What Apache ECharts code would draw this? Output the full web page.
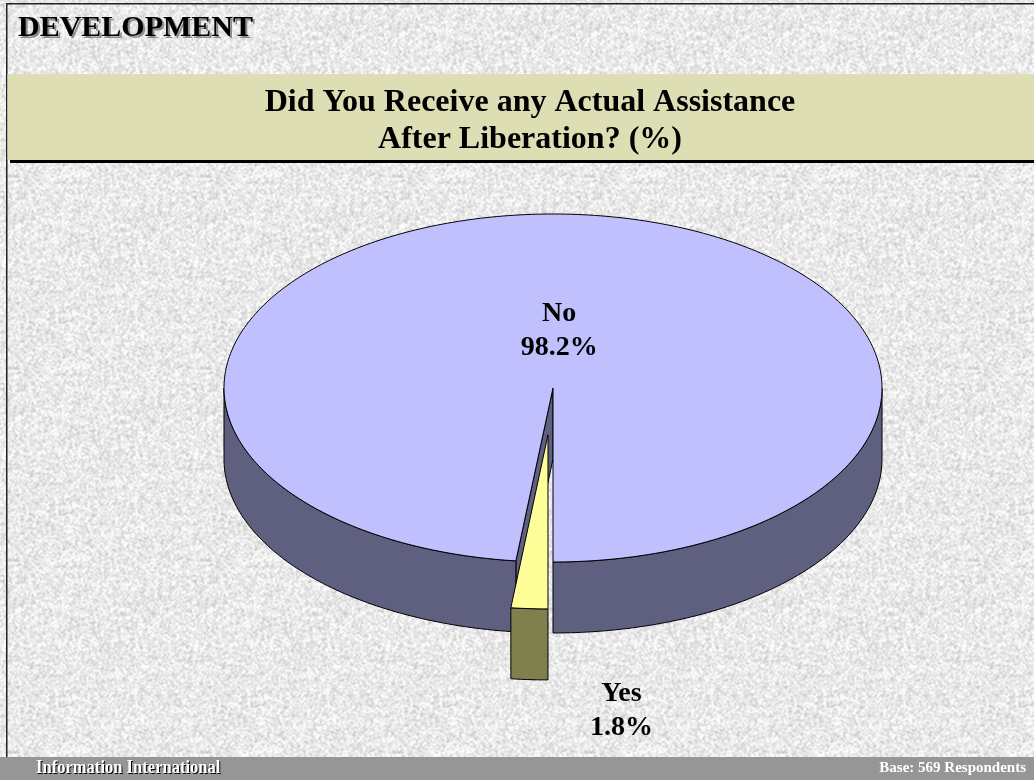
<!DOCTYPE html>
<html>
<head>
<meta charset="utf-8">
<script src="https://cdn.jsdelivr.net/npm/echarts@6/dist/echarts.min.js"></script>
<style>
  html, body { margin: 0; padding: 0; }
  #chart { width: 1034px; height: 780px; }
</style>
</head>
<body>
<div id="chart"></div>
<script>
// ---- data ----
const categories = ['No', 'Yes'];
const values = [98.2, 1.8];
const sectionTitle = 'DEVELOPMENT';
const titleLines = ['Did You Receive any Actual Assistance', 'After Liberation? (%)'];
const footerLeft = 'Information International';
const footerRight = 'Base: 569 Respondents';

// ---- look ----
const topColors = ['#C0C0FF', '#FFFF99'];
const sideColors = ['#5F5F80', '#80804E'];
const SERIF = 'Liberation Serif';

// 3D pie geometry (pixels); slices run counter-clockwise from 6 o'clock
const PIE = { cx: 553, cy: 388, rx: 329, ry: 174, depth: 71, startAngle: 90 };
const explodeBy = { 1: 0.27 };   // pulled-out slice, fraction of radius

function serifText(text, size, extra) {
  return Object.assign({
    text: text, fontFamily: SERIF, fontWeight: 'bold', fontSize: size, fill: '#000'
  }, extra || {});
}

// light granite backdrop built from a deterministic hash grain
function makeTexture() {
  const N = 192;
  const c = document.createElement('canvas');
  c.width = c.height = N;
  const g = c.getContext('2d');
  const hash = (x, y) => {
    let n = Math.imul(x, 374761393) + Math.imul(y, 668265263);
    n = Math.imul(n ^ (n >>> 13), 1274126177);
    n = n ^ (n >>> 16);
    return (n >>> 0) / 4294967296;
  };
  const raw = new Float32Array(N * N);
  for (let y = 0; y < N; y++) for (let x = 0; x < N; x++) raw[y * N + x] = hash(x, y);
  const img = g.createImageData(N, N);
  for (let y = 0; y < N; y++) {
    for (let x = 0; x < N; x++) {
      let s = 0;
      for (let dy = -1; dy <= 1; dy++) for (let dx = -1; dx <= 1; dx++) {
        s += raw[((y + dy + N) % N) * N + ((x + dx + N) % N)];
      }
      s /= 9;
      const fine = raw[y * N + x];
      const v = Math.round(233 + (s - 0.5) * 80 + (fine - 0.5) * 18);
      const k = (y * N + x) * 4;
      img.data[k] = img.data[k + 1] = img.data[k + 2] = Math.max(195, Math.min(252, v));
      img.data[k + 3] = 255;
    }
  }
  g.putImageData(img, 0, 0);
  return c;
}

const total = values.reduce((a, b) => a + b, 0);

function renderSlice(params) {
  const i = params.dataIndex;
  let cum = 0;
  for (let j = 0; j < i; j++) cum += values[j];
  const span = values[i] / total * 360;
  const hi = PIE.startAngle - cum / total * 360;
  const lo = hi - span;
  const bis = (lo + hi) / 2 * Math.PI / 180;
  const ex = (explodeBy[i] || 0) * PIE.rx;
  const ox = PIE.cx + ex * Math.cos(bis);
  const oy = PIE.cy + ex * Math.sin(bis) * PIE.ry / PIE.rx;
  const D = PIE.depth;
  const pt = (deg, h) => {
    const a = deg * Math.PI / 180;
    return [ox + PIE.rx * Math.cos(a), oy + PIE.ry * Math.sin(a) + h];
  };
  const arc = (a0, a1, h) => {
    const n = Math.max(2, Math.ceil(Math.abs(a1 - a0)));
    const pts = [];
    for (let k = 0; k <= n; k++) pts.push(pt(a0 + (a1 - a0) * k / n, h));
    return pts;
  };
  const edge = { stroke: '#000', lineWidth: 1, lineJoin: 'round' };
  const zb = 10 + Math.round((Math.sin(bis) + 1) * 10) * 10;
  const children = [];

  // radial cut faces that turn toward the viewer
  [[lo, lo - 90], [hi, hi + 90]].forEach(([a, nrm]) => {
    if (Math.sin(nrm * Math.PI / 180) > 1e-6) {
      children.push({
        type: 'polygon', z2: zb,
        shape: { points: [[ox, oy], pt(a, 0), pt(a, D), [ox, oy + D]] },
        style: Object.assign({ fill: sideColors[i] }, edge)
      });
    }
  });
  // outer rim, front half only
  for (let k = -2; k <= 1; k++) {
    const a0 = Math.max(lo, 360 * k), a1 = Math.min(hi, 360 * k + 180);
    if (a1 > a0) {
      children.push({
        type: 'polygon', z2: zb + 1,
        shape: { points: arc(a0, a1, 0).concat(arc(a1, a0, D)) },
        style: Object.assign({ fill: sideColors[i] }, edge)
      });
    }
  }
  // top face
  children.push({
    type: 'polygon', z2: zb + 2,
    shape: { points: [[ox, oy]].concat(arc(lo, hi, 0)) },
    style: Object.assign({ fill: topColors[i] }, edge)
  });

  // value label: inside large slices, below-right for thin ones
  let lx, ly;
  if (span > 30) {
    lx = ox + 0.33 * PIE.rx * Math.cos(bis);
    ly = oy + 0.33 * PIE.ry * Math.sin(bis);
  } else {
    lx = ox + PIE.rx * Math.cos(bis) + 92;
    ly = oy + PIE.ry * Math.sin(bis) + D + 31;
  }
  children.push({
    type: 'text', z2: 1000, x: lx, y: ly,
    style: serifText(categories[i] + '\n' + values[i].toFixed(1) + '%', 28,
      { lineHeight: 34, align: 'center', verticalAlign: 'middle' })
  });
  return { type: 'group', children };
}

const chart = echarts.init(document.getElementById('chart'), null, { renderer: 'canvas' });
chart.setOption({
  animation: false,
  backgroundColor: { image: makeTexture(), repeat: 'repeat' },
  graphic: [
    // frame
    { type: 'rect', shape: { x: 6, y: 3, width: 1028, height: 1.5 }, style: { fill: '#222' }, z: 1 },
    { type: 'rect', shape: { x: 6, y: 3, width: 1.5, height: 756 }, style: { fill: '#222' }, z: 1 },
    // title band
    { type: 'rect', shape: { x: 7.5, y: 74, width: 1027, height: 86 }, style: { fill: '#DEDEB5' }, z: 1 },
    { type: 'rect', shape: { x: 10, y: 160, width: 1024, height: 3 }, style: { fill: '#000' }, z: 1 },
    // section heading with drop shadow
    { type: 'text', x: 20, y: 30, z: 2, style: serifText(sectionTitle, 30, { fill: '#8c8c8c', verticalAlign: 'middle' }) },
    { type: 'text', x: 18, y: 28, z: 3, style: serifText(sectionTitle, 30, { verticalAlign: 'middle' }) },
    // chart title
    { type: 'text', x: 530, y: 103, z: 3, style: serifText(titleLines[0], 32, { align: 'center', verticalAlign: 'middle' }) },
    { type: 'text', x: 530, y: 140, z: 3, style: serifText(titleLines[1], 32, { align: 'center', verticalAlign: 'middle' }) },
    // footer
    { type: 'rect', shape: { x: 0, y: 757, width: 1034, height: 23 }, style: { fill: '#969696' }, z: 1 },
    { type: 'text', x: 37, y: 769, z: 2, scaleX: 0.92, style: serifText(footerLeft, 18, { fill: '#000', verticalAlign: 'middle' }) },
    { type: 'text', x: 36, y: 768, z: 3, scaleX: 0.92, style: serifText(footerLeft, 18, { fill: '#fff', verticalAlign: 'middle' }) },
    { type: 'text', x: 1026, y: 768, z: 3, style: serifText(footerRight, 15, { fill: '#fff', align: 'right', verticalAlign: 'middle' }) }
  ],
  series: [{
    type: 'custom',
    coordinateSystem: 'none',
    renderItem: renderSlice,
    data: values.map((v, i) => ({ name: categories[i], value: [v, i] })),
    z: 5
  }]
});
</script>
</body>
</html>
